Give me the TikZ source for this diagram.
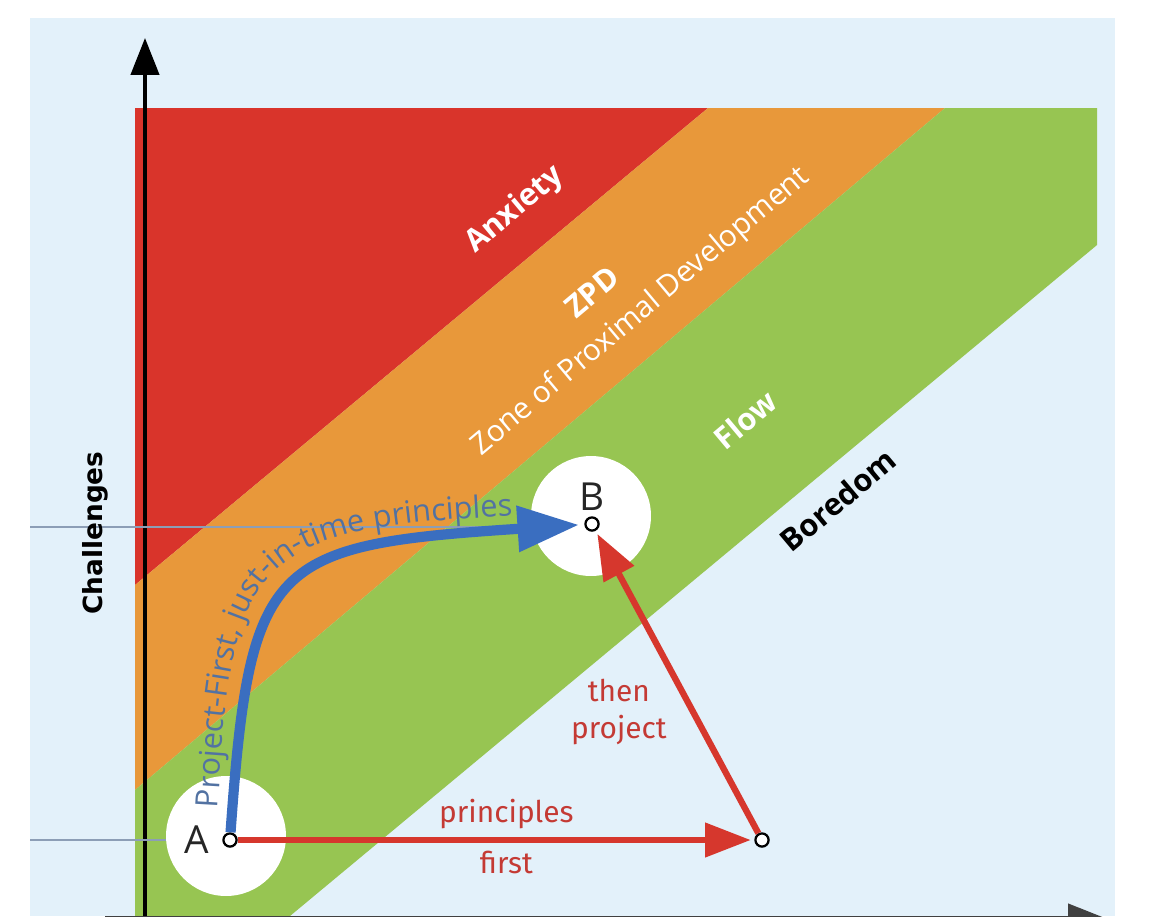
\documentclass[tikz,border=0pt]{standalone}
\usepackage{fontspec}
\setmainfont{Fira Sans}
\newfontfamily\zonefont{Open Sans}
\newfontfamily\axisfont{DejaVu Sans}
\usepackage{xcolor}
\usepackage{tikz}
\usetikzlibrary{arrows.meta, positioning, decorations.text}

\definecolor{panelblue}{RGB}{227,241,250}
\definecolor{zonered}{RGB}{217,52,43}
\definecolor{zoneorange}{RGB}{232,152,58}
\definecolor{zonegreen}{RGB}{151,197,82}
\definecolor{arrowred}{RGB}{214,55,45}
\definecolor{labelred}{RGB}{196,58,52}
\definecolor{arrowblue}{RGB}{58,110,192}
\definecolor{pathblue}{RGB}{82,114,162}
\definecolor{guidegray}{RGB}{140,158,182}

\begin{document}
\begin{tikzpicture}[x=0.02cm, y=-0.02cm,
    zonelabel/.style={font=\zonefont\bfseries\fontsize{17.5}{20}\selectfont, text=white, rotate=40},
    axislabel/.style={font=\axisfont\bfseries\fontsize{15}{18}\selectfont, text=black},
    redlabel/.style={font=\fontsize{17}{21}\selectfont, text=labelred, align=center},
    ptlabel/.style={font=\zonefont\fontsize{22}{24}\selectfont, text=black!85},
    point/.style={circle, draw=black, fill=white, line width=1.3pt, inner sep=0pt, minimum size=7.5pt},
    spot/.style={circle, fill=white, inner sep=0pt, minimum size=2.4cm},
    redarrow/.style={-{Triangle[length=26pt, width=19pt]}, line width=3.6pt, arrowred, shorten >=2pt},
    bluearrow/.style={-{Triangle[length=35pt, width=25pt]}, line width=5.8pt, arrowblue, shorten >=3pt},
    axisline/.style={-{Triangle[length=21pt, width=16pt]}, line width=2.2pt, black},
    guide/.style={draw=guidegray, line width=0.6pt}
]

% Page and panel
\useasboundingbox (0,0) rectangle (1165,916);
\fill[white] (0,0) rectangle (1165,916);
\fill[panelblue] (30,18) rectangle (1115,916);

% Zones (diagonal bands)
\fill[zonered] (135,108) -- (708,108) -- (135,585) -- cycle;
\fill[zoneorange] (708,108) -- (945,108) -- (135,790) -- (135,585) -- cycle;
\fill[zonegreen] (945,108) -- (1097,108) -- (1097,245) -- (290,916) -- (135,916) -- (135,790) -- cycle;

% Axes
\draw[axisline] (145,930) -- (145,38);
\draw[axisline, black!75] (105,918) -- (1105,918);

% Guide lines
\draw[guide] (30,840) -- (180,840);
\draw[guide] (30,527) -- (520,527);

% White spots round the two states
\node[spot] (spotA) at (226,836) {};
\node[spot] (spotB) at (591,516) {};

% Zone labels
\node[zonelabel] (lblAnxiety) at (515,210) {Anxiety};
\node[zonelabel] (lblZPD) at (592,292) {ZPD};
\node[zonelabel, font=\zonefont\fontsize{17}{20}\selectfont] (lblZone) at (641,312) {Zone of Proximal Development};
\node[zonelabel] (lblFlow) at (745,420) {Flow};
\node[zonelabel, text=black] (lblBoredom) at (838,500) {Boredom};
\node[axislabel, rotate=90] (lblChallenges) at (95,533) {Challenges};

% States
\node[point] (ptA) at (230,840) {};
\node[point] (ptB) at (592,524) {};
\node[point] (ptC) at (762,840) {};
\node[ptlabel, left=4pt of ptA] {A};
\node[ptlabel, above=0pt of ptB] {B};

% Principles first, then project
\draw[redarrow] (ptA) -- node[redlabel, pos=0.52, above=1pt] {principles}
    node[redlabel, pos=0.52, below=1pt] {first} (ptC);
\draw[redarrow] (ptC) -- node[redlabel, pos=0.4, left=10pt] {then\\project} (ptB);

% Project-first, just-in-time principles
\draw[bluearrow] (ptA) .. controls (250,560) and (270,545) .. (ptB);
\path[decorate, decoration={text along path, text align=left,
    text={|\zonefont\fontsize{17.5}{20}\selectfont\color{pathblue}|Project-First{,} just-in-time principles}}]
    (218,808) .. controls (232,545) and (255,525) .. (560,514);

\end{tikzpicture}
\end{document}
